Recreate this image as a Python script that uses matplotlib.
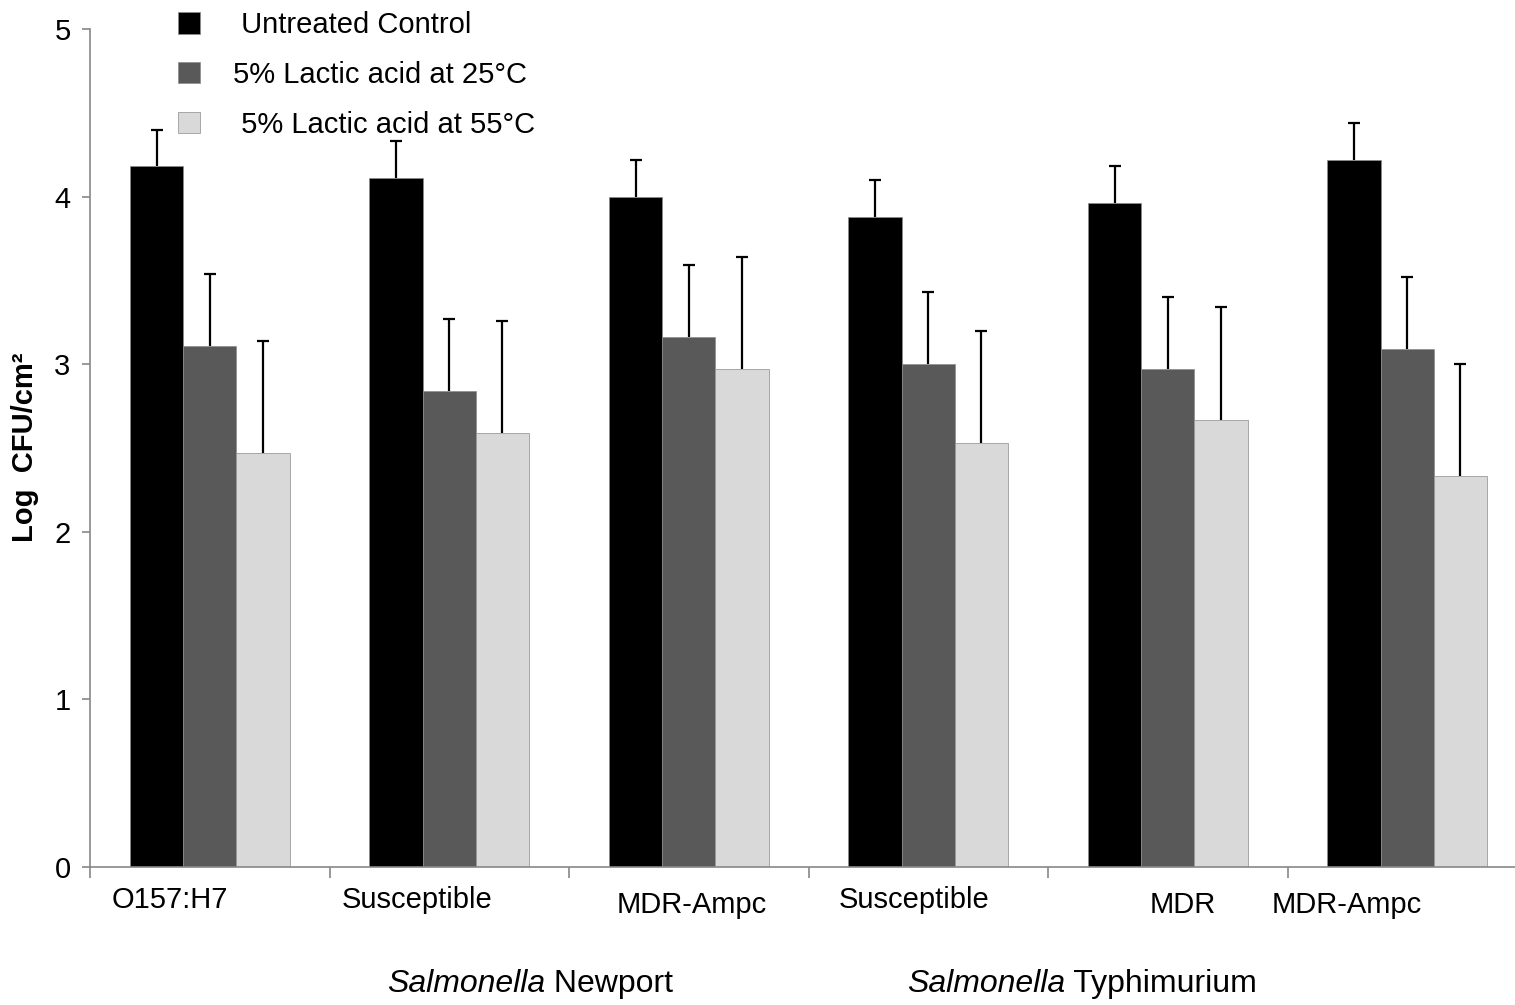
import matplotlib
matplotlib.use("Agg")
from matplotlib import pyplot as plt
import numpy as np

plt.rcParams['font.family'] = ['Liberation Sans', 'DejaVu Sans']

strains = ["O157:H7", "Susceptible", "MDR-Ampc", "Susceptible", "MDR", "MDR-Ampc"]
legend_labels = [" Untreated Control", "5% Lactic acid at 25\u00b0C", " 5% Lactic acid at 55\u00b0C"]
control = [4.18, 4.11, 4.00, 3.88, 3.96, 4.22]
lactic25 = [3.11, 2.84, 3.16, 3.00, 2.97, 3.09]
lactic55 = [2.47, 2.59, 2.97, 2.53, 2.67, 2.33]
err_control = [0.22, 0.22, 0.22, 0.22, 0.22, 0.22]
err_25 = [0.43, 0.43, 0.43, 0.43, 0.43, 0.43]
err_55 = [0.67, 0.67, 0.67, 0.67, 0.67, 0.67]
colours = ["#000000", "#595959", "#d9d9d9"]

fig = plt.figure(figsize=(15.15, 10.05), dpi=100)
ax = fig.add_axes([90/1515, 138/1005, 1437/1515, 838/1005])

x = np.arange(len(strains))
w = 0.222
cap = 0.025
vals = [control, lactic25, lactic55]
errs = [err_control, err_25, err_55]
handles = []
for i in range(3):
    xs = x + (i - 1) * w
    v = np.array(vals[i])
    e = np.array(errs[i])
    b = ax.bar(xs, v, w, color=colours[i], edgecolor="#8c8c8c",
               linewidth=0.5, label=legend_labels[i], zorder=2)
    handles.append(b)
    # only the upper half of each error bar is drawn
    ax.vlines(xs, v, v + e, color="black", linewidth=1.6, zorder=1)
    ax.hlines(v + e, xs - cap, xs + cap, color="black", linewidth=1.6, zorder=1)

ax.set_xlim(-0.5, len(strains) - 0.5)
ax.set_ylim(0, 5)
ax.set_yticks([0, 1, 2, 3, 4, 5])
ax.set_xticks(np.arange(len(strains) + 1) - 0.5)
ax.set_xticklabels([])
ax.tick_params(axis="y", labelsize=21, length=6, color="#888888", width=1.2, pad=8)
ax.tick_params(axis="x", length=8, color="#888888", width=1.2)
for s in ["top", "right"]:
    ax.spines[s].set_visible(False)
for s in ["left", "bottom"]:
    ax.spines[s].set_color("#888888")
    ax.spines[s].set_linewidth(1.2)

# strain labels sit off-centre in the original
label_x = [-0.166, 0.865, 2.014, 2.941, 4.064, 4.748]
label_y = [-0.197, -0.197, -0.227, -0.197, -0.227, -0.227]
for lx, ly, s in zip(label_x, label_y, strains):
    ax.text(lx, ly, s, ha="center", va="center", fontsize=21)

ax.text(1.40, -0.70, "Salmonella", ha="right", va="center", fontsize=23, style="italic")
ax.text(1.40, -0.70, " Newport", ha="left", va="center", fontsize=23)
ax.text(3.571, -0.70, "Salmonella", ha="right", va="center", fontsize=23, style="italic")
ax.text(3.571, -0.70, " Typhimurium", ha="left", va="center", fontsize=23)

fig.text(25/1515, 1 - 447/1005, "Log  CFU/cm\u00b2", rotation=90, ha="center", va="center",
         fontsize=21, fontweight="bold")

leg = fig.legend(handles=handles, loc="upper left", bbox_to_anchor=(178/1515, 1 - 11/1005),
                 bbox_transform=fig.transFigure, frameon=False, fontsize=21, borderpad=0,
                 borderaxespad=0, handlelength=0.754, handleheight=0.754,
                 labelspacing=0.75, handletextpad=1.13)

fig.savefig("out.png", dpi=100)
